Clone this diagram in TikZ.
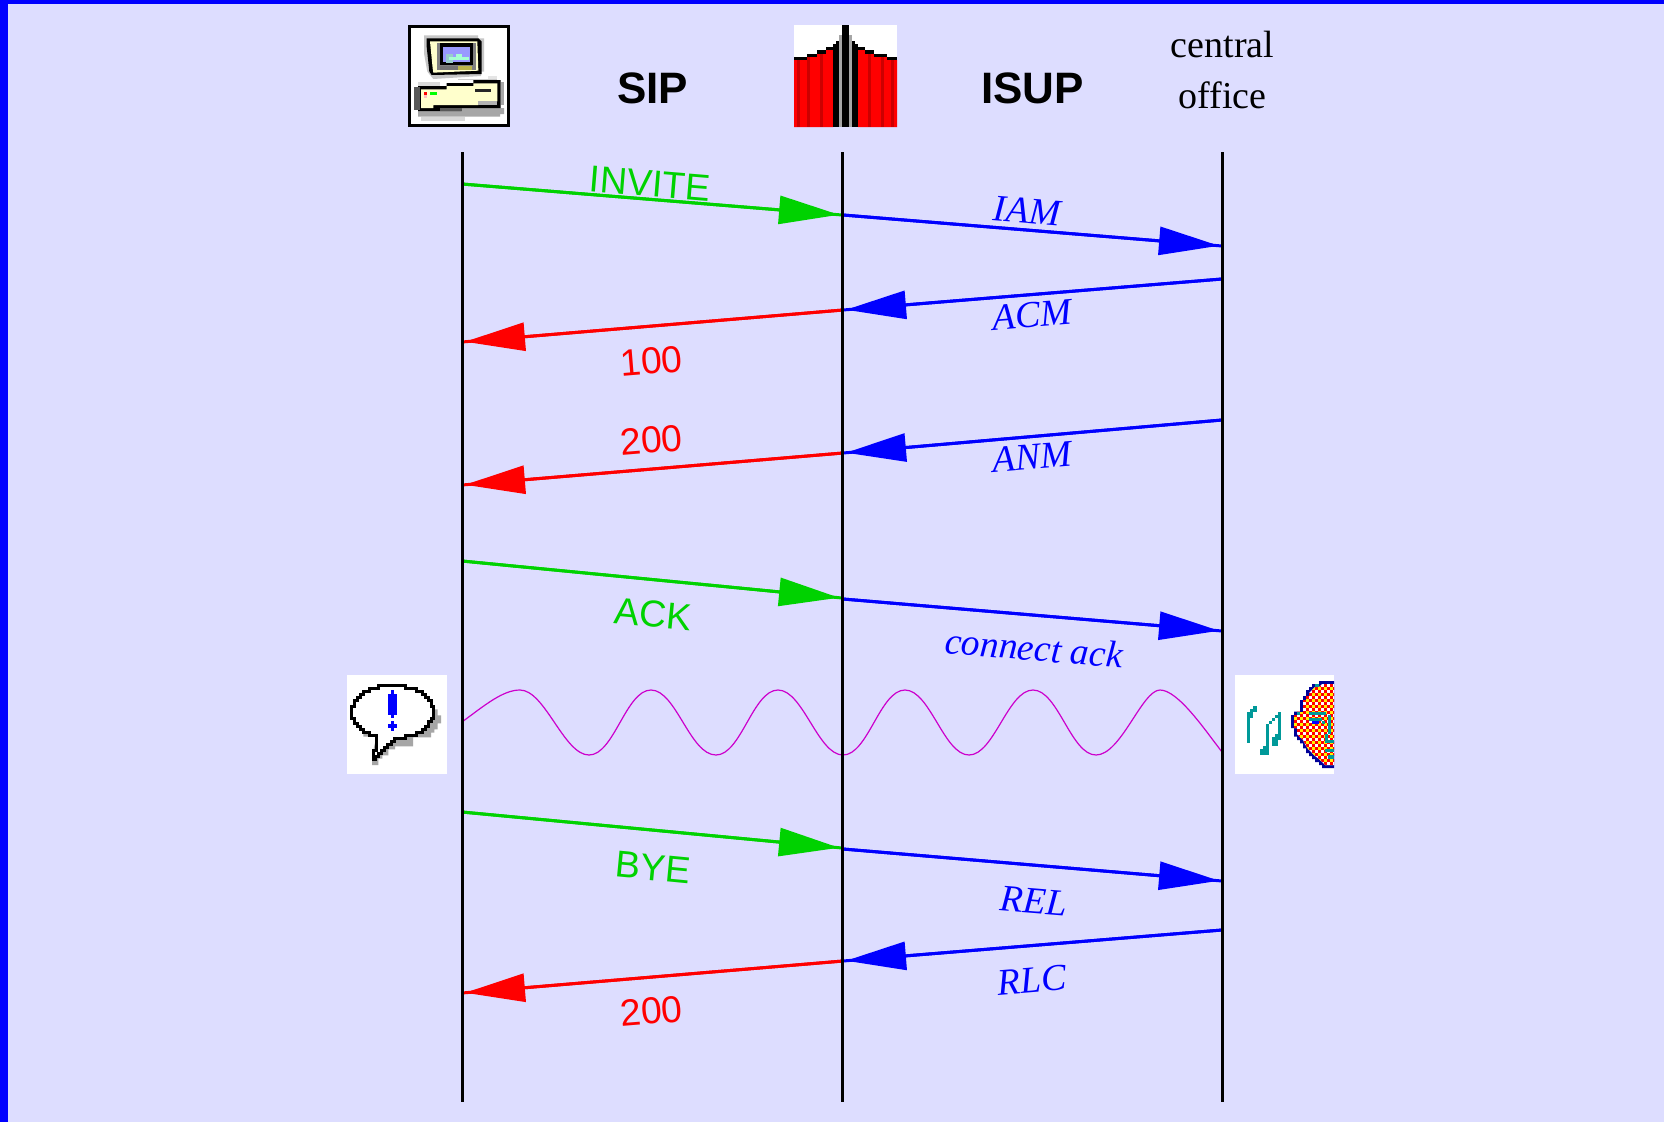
\documentclass[tikz,border=0pt]{standalone}
\usepackage{fontspec}
\setmainfont{Liberation Serif}
\setsansfont{Liberation Sans}
\usetikzlibrary{arrows.meta}
\definecolor{bgc}{HTML}{DDDDFF}
\definecolor{sipgreen}{HTML}{00D200}
\definecolor{wavec}{HTML}{CC00CC}
\definecolor{creamc}{HTML}{FFFFCC}
\definecolor{tealc}{HTML}{009999}
\definecolor{darkb}{HTML}{000099}
\definecolor{darkr}{HTML}{CC0000}
\definecolor{shadowc}{HTML}{A6A6A6}
\tikzset{
  msg/.style={line width=3pt,-{Triangle[length=60pt,width=28pt]},shorten >=3pt,postaction={draw,arrows=-,shorten >=0pt}},
  sipreq/.style={msg,sipgreen},
  sipresp/.style={msg,red},
  isupmsg/.style={msg,blue},
  lifeline/.style={line width=3pt,black},
  sflabel/.style={inner sep=0pt,font=\sffamily\fontsize{37.5}{37.5}\selectfont},
  islabel/.style={inner sep=0pt,blue,font=\rmfamily\itshape\fontsize{37.5}{37.5}\selectfont},
  hdr/.style={inner sep=0pt,font=\sffamily\bfseries\fontsize{44}{44}\selectfont},
  coflabel/.style={inner sep=0pt,font=\rmfamily\fontsize{38}{38}\selectfont},
  icon/.style={x=0.33333pt,y=-0.33333pt}
}
\newcommand{\rc}[3]{\fill[#1] #2 rectangle #3;}
\begin{document}
\begin{tikzpicture}[x=1pt,y=-1pt]
\useasboundingbox (0,0) rectangle (1664,1122);
\fill[bgc] (0,0) rectangle (1664,1122);
\fill[blue] (0,0) rectangle (1664,4);
\fill[blue] (0,0) rectangle (8,1122);

% computer icon
\begin{scope}[shift={(390,0)},icon]
\draw[line width=3pt,fill=white] (58,79) rectangle (356,377);
\fill[gray!45] (102,106) -- (264,106) -- (264,115) -- (282,115) -- (282,215) -- (273,215) -- (273,228) -- (130,237) -- (112,215) -- (102,160) -- cycle;
\fill[black] (110,115) -- (265,115) -- (275,125) -- (275,222) -- (125,225) -- (118,215) -- (110,140) -- cycle;
\fill[creamc] (120,124) -- (262,124) -- (265,212) -- (130,218) -- (128,205) -- cycle;
\fill[gray] (140,130) rectangle (258,210);
\fill[black] (150,130) rectangle (248,195);
\fill[olive!60] (205,197) rectangle (245,210);
\fill[gray!90!black] (150,197) rectangle (205,210);
\fill[blue!40] (160,140) rectangle (240,187);
\rc{teal!40}{(168,161)}{(188,188)}
\rc{green!50!cyan!35}{(178,170)}{(215,180)}
\rc{green!50!cyan!35}{(198,161)}{(216,172)}
\rc{green!50!cyan!35}{(215,170)}{(238,180)}
% computer base
\rc{gray!30}{(85,246)}{(150,258)}
\rc{gray!40}{(205,237)}{(320,241)}
\rc{gray!20}{(295,228)}{(320,237)}
\rc{gray!70}{(332,246)}{(342,315)}
\fill[shadowc] (84,333) -- (215,333) -- (215,324) -- (342,324) -- (342,342) -- (330,342) -- (330,350) -- (84,350) -- cycle;
\rc{gray!30}{(93,350)}{(225,363)}
\fill[black] (84,258) -- (170,258) -- (170,249) -- (250,249) -- (250,240) -- (332,240) -- (332,324) -- (215,324) -- (215,333) -- (84,333) -- cycle;
\rc{gray!70!black}{(150,324)}{(215,333)}
\rc{gray!70!black}{(72,262)}{(90,330)}
\fill[creamc] (93,268) -- (170,268) -- (170,258) -- (250,258) -- (250,250) -- (322,250) -- (322,304) -- (265,304) -- (265,315) -- (130,315) -- (130,324) -- (93,324) -- cycle;
\rc{gray!60}{(265,304)}{(322,315)}
\rc{black!85}{(255,267)}{(303,276)}
\rc{red}{(102,276)}{(111,285)}
\rc{green}{(120,276)}{(141,285)}
\rc{red!25}{(102,285)}{(111,294)}
\end{scope}

% central gateway icon
\begin{scope}[shift={(770,10)},icon]
\fill[white] (72,45) rectangle (381,351);
\fill[red] (72,150) -| (111,141) -| (141,132) -| (168,120) -| (189,351) -| cycle;
\fill[red] (264,120) -| (285,132) -| (312,141) -| (351,150) -| (381,351) -| cycle;
\foreach \a/\b/\c in {81/90/150,111/120/141,150/159/132,294/303/132,333/342/141,363/372/150}
  {\fill[darkr] (\a,\c) rectangle (\b,351);}
\rc{black}{(72,141)}{(111,150)}
\rc{black}{(111,132)}{(141,141)}
\rc{black}{(141,120)}{(168,132)}
\rc{black}{(168,111)}{(189,120)}
\rc{black}{(264,111)}{(285,120)}
\rc{black}{(285,120)}{(312,132)}
\rc{black}{(312,132)}{(351,141)}
\rc{black}{(351,141)}{(381,150)}
\rc{black}{(189,102)}{(198,351)}
\rc{black}{(198,93)}{(207,351)}
\rc{black}{(246,93)}{(255,351)}
\rc{black}{(255,102)}{(264,351)}
\rc{shadowc}{(207,75)}{(216,351)}
\rc{shadowc}{(237,75)}{(246,351)}
\rc{black}{(216,45)}{(237,351)}
\end{scope}

% alert bubble icon
\begin{scope}[shift={(335,660)},icon]
\fill[white] (36,45) rectangle (336,342);
\def\bubble{(130,76) -- (212,76) -- (212,85) -- (245,85) -- (245,94) -- (262,94) -- (262,103) -- (271,103) -- (271,112) -- (280,112) -- (280,121) -- (289,121) -- (289,139) -- (294,139) -- (294,175) -- (289,175) -- (289,185) -- (280,185) -- (280,200) -- (271,200) -- (271,209) -- (262,209) -- (262,218) -- (245,218) -- (245,226) -- (212,226) -- (212,235) -- (178,235) -- (178,243) -- (168,243) -- (168,252) -- (158,252) -- (158,261) -- (149,261) -- (149,270) -- (140,270) -- (140,279) -- (131,279) -- (131,288) -- (122,288) -- (122,297) -- (115,297) -- (115,270) -- (124,270) -- (124,226) -- (102,226) -- (102,218) -- (85,218) -- (85,209) -- (75,209) -- (75,200) -- (66,200) -- (66,190) -- (57,190) -- (57,175) -- (49,175) -- (49,139) -- (57,139) -- (57,121) -- (66,121) -- (66,112) -- (75,112) -- (75,103) -- (85,103) -- (85,94) -- (102,94) -- (102,85) -- (130,85) -- cycle}
\fill[shadowc] (298,148) -- (308,148) -- (308,166) -- (318,166) -- (318,190) -- (308,190) -- (308,208) -- (298,208) -- (298,218) -- (288,218) -- (288,232) -- (234,232) -- (234,259) -- (180,259) -- (180,268) -- (160,268) -- (160,286) -- (142,286) -- (142,296) -- (130,296) -- (130,315) -- (111,315) -- (111,290) -- (124,230) -- (85,230) -- (85,218) -- cycle;
\draw[line width=3pt,fill=white,miter limit=2] \bubble;
\rc{blue}{(159,103)}{(186,165)}
\rc{blue}{(168,90)}{(177,175)}
\rc{blue}{(168,183)}{(177,212)}
\rc{blue}{(159,192)}{(186,203)}
\end{scope}

% listening face icon
\begin{scope}[shift={(1220,660)},icon]
\fill[white] (45,45) rectangle (342,342);
\def\face{(342,63) -- (297,63) -- (297,72) -- (276,72) -- (276,81) -- (267,81) -- (267,90) -- (258,90) -- (258,108) -- (249,108) -- (249,120) -- (240,120) -- (240,155) -- (222,155) -- (222,165) -- (213,165) -- (213,204) -- (222,204) -- (222,230) -- (231,230) -- (231,240) -- (240,240) -- (240,250) -- (249,250) -- (249,265) -- (258,265) -- (258,279) -- (267,279) -- (267,288) -- (276,288) -- (276,297) -- (285,297) -- (285,306) -- (297,306) -- (297,315) -- (306,315) -- (306,324) -- (342,324) -- cycle}
\fill[darkb] \face;
\begin{scope}
\clip (342,72) -- (306,72) -- (297,81) -- (285,81) -- (276,90) -- (267,99) -- (267,108) -- (258,108) -- (258,120) -- (249,120) -- (249,155) -- (231,155) -- (231,165) -- (222,165) -- (222,204) -- (231,204) -- (231,222) -- (240,232) -- (249,240) -- (258,258) -- (267,270) -- (276,279) -- (285,288) -- (297,297) -- (306,306) -- (315,315) -- (342,315) -- cycle;
\fill[white] (210,60) rectangle (342,330);
\foreach \i in {0,...,14}{\foreach \j in {0,...,29}{
  \pgfmathtruncatemacro{\odd}{mod(\i+\j,2)}
  \pgfmathtruncatemacro{\rr}{mod(\j,2)}
  \ifnum\odd=0
    \fill[red] ({213+9*\i},{63+9*\j}) rectangle ++(9,9);
  \else
    \ifnum\rr=0
      \fill[yellow] ({213+9*\i},{63+9*\j}) rectangle ++(9,9);
    \fi
  \fi
}}
\end{scope}
\rc{darkb}{(240,120)}{(249,155)}
\rc{tealc}{(285,72)}{(297,81)}
\rc{tealc}{(231,156)}{(240,165)}
\rc{tealc}{(267,156)}{(318,165)}
\rc{tealc}{(267,174)}{(306,183)}
\rc{blue}{(276,183)}{(297,192)}
\rc{tealc}{(324,165)}{(333,222)}
\rc{tealc}{(306,183)}{(315,192)}
\rc{tealc}{(315,222)}{(324,248)}
\rc{tealc}{(315,240)}{(342,249)}
\rc{tealc}{(315,267)}{(342,276)}
\rc{tealc}{(324,285)}{(342,297)}
% notes
\rc{tealc}{(82,157)}{(90,248)}
\rc{tealc}{(82,157)}{(100,175)}
\rc{tealc}{(90,148)}{(110,157)}
\rc{tealc}{(100,139)}{(110,148)}
\rc{tealc}{(138,193)}{(147,275)}
\rc{tealc}{(120,267)}{(147,285)}
\rc{tealc}{(130,258)}{(147,275)}
\rc{tealc}{(147,184)}{(156,193)}
\rc{tealc}{(156,175)}{(165,184)}
\rc{tealc}{(165,166)}{(183,175)}
\rc{tealc}{(174,157)}{(183,240)}
\rc{tealc}{(156,232)}{(174,258)}
\rc{tealc}{(165,222)}{(183,240)}
\end{scope}

% lifeline ends
\coordinate (Atop) at (462,152); \coordinate (Abot) at (462,1102);
\coordinate (Btop) at (842.5,152); \coordinate (Bbot) at (842.5,1102);
\coordinate (Ctop) at (1222.5,152); \coordinate (Cbot) at (1222.5,1102);

% message end points
\coordinate (inviteS) at (462,184); \coordinate (inviteE) at (842,215);
\coordinate (iamS) at (843,215); \coordinate (iamE) at (1222,246);
\coordinate (acmS) at (1222,279); \coordinate (acmE) at (843,310);
\coordinate (tryS) at (843,310); \coordinate (tryE) at (462,342);
\coordinate (anmS) at (1222,420); \coordinate (anmE) at (843,453);
\coordinate (okS) at (843,453); \coordinate (okE) at (462,485);
\coordinate (ackS) at (462,561); \coordinate (ackE) at (842,598);
\coordinate (conS) at (843,599); \coordinate (conE) at (1222,631);
\coordinate (byeS) at (462,812); \coordinate (byeE) at (842,848);
\coordinate (relS) at (843,849); \coordinate (relE) at (1222,881);
\coordinate (rlcS) at (1222,930); \coordinate (rlcE) at (843,961);
\coordinate (ok2S) at (843,961); \coordinate (ok2E) at (462,993);

\draw[sipreq] (inviteS) -- (inviteE);
\draw[isupmsg] (iamS) -- (iamE);
\draw[isupmsg] (acmS) -- (acmE);
\draw[sipresp] (tryS) -- (tryE);
\draw[isupmsg] (anmS) -- (anmE);
\draw[sipresp] (okS) -- (okE);
\draw[sipreq] (ackS) -- (ackE);
\draw[isupmsg] (conS) -- (conE);
\draw[sipreq] (byeS) -- (byeE);
\draw[isupmsg] (relS) -- (relE);
\draw[isupmsg] (rlcS) -- (rlcE);
\draw[sipresp] (ok2S) -- (ok2E);

% voice path
\draw[wavec,line width=1.2pt] (462,722)
  .. controls (485,705) and (503,690) .. (520,690)
  .. controls (545,690) and (564,755) .. (589,755)
  .. controls (614,755) and (626,690) .. (651,690)
  .. controls (676,690) and (690,755) .. (716,755)
  .. controls (741,755) and (753,690) .. (778,690)
  .. controls (803,690) and (818,755) .. (843,755)
  .. controls (868,755) and (880,690) .. (905,690)
  .. controls (930,690) and (944,755) .. (969,755)
  .. controls (994,755) and (1008,690) .. (1033,690)
  .. controls (1058,690) and (1071,755) .. (1096,755)
  .. controls (1121,755) and (1142,690) .. (1160,690)
  .. controls (1178,690) and (1205,730) .. (1222,752);

\draw[lifeline] (Atop) -- (Abot);
\draw[lifeline] (Btop) -- (Bbot);
\draw[lifeline] (Ctop) -- (Cbot);

% headers
\node[hdr] (sip) at (652.5,88) {SIP};
\node[hdr] (isup) at (1032.5,88) {ISUP};
\node[coflabel] (central) at (1222.5,44) {central};
\node[coflabel] (office) at (1222.5,95) {office};

% labels
\node[sflabel,sipgreen,rotate=-4.7] (linvite) at (650,183.5) {INVITE};
\node[islabel,rotate=-4.7] (liam) at (1027,211) {IAM};
\node[islabel,rotate=4.7] (lacm) at (1032,315) {ACM};
\node[sflabel,red,rotate=4.7] (l100) at (651.5,361) {100};
\node[sflabel,red,rotate=4.7] (l200a) at (651.5,440) {200};
\node[islabel,rotate=4.7] (lanm) at (1032,457) {ANM};
\node[sflabel,sipgreen,rotate=-5.5] (lack) at (653.5,614) {ACK};
\node[islabel,rotate=-4.7] (lcon) at (1034,648) {connect ack};
\node[sflabel,sipgreen,rotate=-5.5] (lbye) at (653,867.5) {BYE};
\node[islabel,rotate=-4.7] (lrel) at (1034,901) {REL};
\node[islabel,rotate=4.7] (lrlc) at (1032,980) {RLC};
\node[sflabel,red,rotate=4.7] (l200b) at (651.5,1011) {200};
\end{tikzpicture}
\end{document}
